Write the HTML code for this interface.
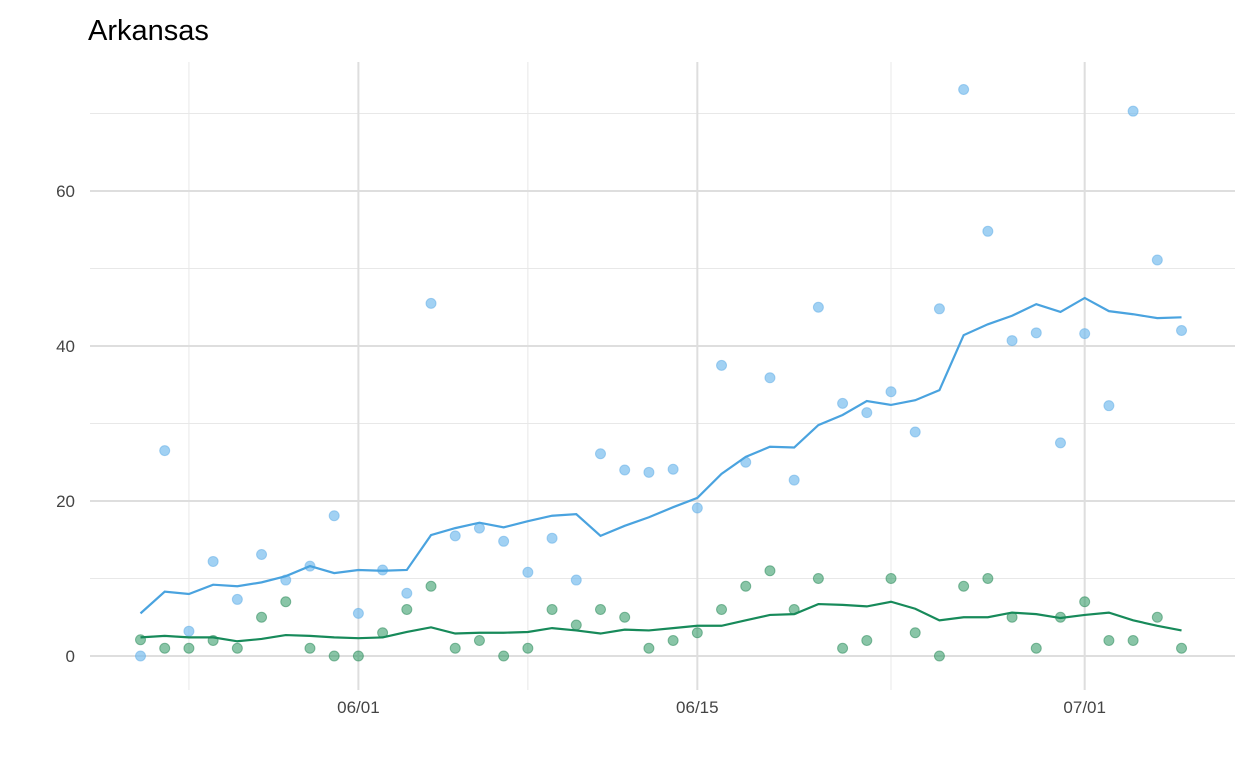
<!DOCTYPE html>
<html><head><meta charset="utf-8">
<style>
html,body{margin:0;padding:0;background:#fff;}
svg{display:block;font-family:"Liberation Sans",Arial,sans-serif;}
</style></head>
<body>
<svg id="chart" width="1248" height="768" viewBox="0 0 1248 768">
  <text x="88" y="40" font-size="29" fill="#000">Arkansas</text>
  <g id="grid"></g>
  <g id="marks"></g>
</svg>
<script>
const startDay = 0; // May 23
const blueDots = [0,26.5,3.2,12.2,7.3,13.1,9.8,11.6,18.1,5.5,11.1,8.1,45.5,15.5,16.5,14.8,10.8,15.2,9.8,26.1,24.0,23.7,24.1,19.1,37.5,25.0,35.9,22.7,45.0,32.6,31.4,34.1,28.9,44.8,73.1,54.8,40.7,41.7,27.5,41.6,32.3,70.3,51.1,42.0];
const blueLine = [5.5,8.3,8.0,9.2,9.0,9.5,10.3,11.6,10.7,11.1,11.0,11.1,15.6,16.5,17.2,16.6,17.4,18.1,18.3,15.5,16.8,17.9,19.2,20.4,23.5,25.7,27.0,26.9,29.8,31.1,32.9,32.4,33.0,34.3,41.4,42.8,43.9,45.4,44.4,46.2,44.5,44.1,43.6,43.7];
const greenDots = [2.1,1,1,2,1,5,7,1,0,0,3,6,9,1,2,0,1,6,4,6,5,1,2,3,6,9,11,6,10,1,2,10,3,0,9,10,5,1,5,7,2,2,5,1];
const greenLine = [2.4,2.6,2.4,2.4,1.9,2.2,2.7,2.6,2.4,2.3,2.4,3.1,3.7,2.9,3.0,3.0,3.1,3.6,3.3,2.9,3.4,3.3,3.6,3.9,3.9,4.6,5.3,5.4,6.7,6.6,6.4,7.0,6.1,4.6,5.0,5.0,5.6,5.4,4.9,5.3,5.6,4.6,3.9,3.3];
const yMajor = [0,20,40,60];
const yMinor = [10,30,50,70];
const xMajorDays = [9,23,39];
const xMajorLabels = ["06/01","06/15","07/01"];
const xMinorDays = [2,16,31];

const NS="http://www.w3.org/2000/svg";
function xs(d){return 140.5 + (d - startDay) * 24.21;}
function ys(v){return 656 - v * 7.75;}
const grid=document.getElementById('grid'), marks=document.getElementById('marks');
function mk(tag,attrs,parent){const e=document.createElementNS(NS,tag);for(const k in attrs)e.setAttribute(k,attrs[k]);parent.appendChild(e);return e;}

yMinor.forEach(v=>{const l=mk('line',{x1:90,x2:1235,y1:ys(v),y2:ys(v),stroke:'#e8e8e8','stroke-width':1},grid);

});
xMinorDays.forEach(d=>{const l=mk('line',{x1:xs(d),x2:xs(d),y1:62,y2:690,stroke:'#e8e8e8','stroke-width':1},grid);

});
yMajor.forEach(v=>{const l=mk('line',{x1:90,x2:1235,y1:ys(v),y2:ys(v),stroke:'#dedede','stroke-width':2},grid);


const t=mk('text',{x:75,y:ys(v)+6,'text-anchor':'end','font-size':17,fill:'#444'},grid);t.textContent=v;

});
xMajorDays.forEach((d,i)=>{const l=mk('line',{x1:xs(d),x2:xs(d),y1:62,y2:690,stroke:'#dedede','stroke-width':2},grid);


const t=mk('text',{x:xs(d),y:713,'text-anchor':'middle','font-size':17,fill:'#444'},grid);t.textContent=xMajorLabels[i];

});

function dots(arr,fill,stroke,name){arr.forEach((v,i)=>{const c=mk('circle',{cx:xs(i),cy:ys(v),r:5,fill:fill,stroke:stroke,'stroke-width':1},marks);

});}
function line(arr,color,name){const p=mk('polyline',{points:arr.map((v,i)=>xs(i)+','+ys(v)).join(' '),fill:'none',stroke:color,'stroke-width':2.2},marks);

}
dots(blueDots,'rgba(111,184,236,0.65)','rgba(90,170,230,0.5)','blue-point');
dots(greenDots,'rgba(40,150,95,0.55)','rgba(30,130,80,0.5)','green-point');
line(blueLine,'#4aa3df','blue-trend-line');
line(greenLine,'#178a5a','green-trend-line');
</script>
</body></html>
